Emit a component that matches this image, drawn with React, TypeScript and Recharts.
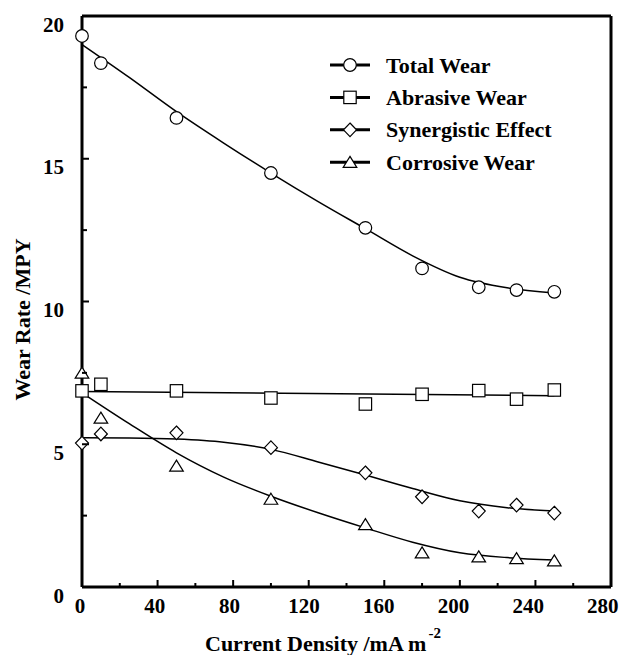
import { ComposedChart, Line, Scatter, XAxis, YAxis, Legend } from 'recharts'

// measured points
const currentDensity = [0, 10, 50, 100, 150, 180, 210, 230, 250]
const totalWear = [19.3, 18.35, 16.43, 14.5, 12.58, 11.16, 10.5, 10.4, 10.34]
const abrasiveWear = [6.87, 7.1, 6.87, 6.62, 6.41, 6.75, 6.88, 6.58, 6.9]
const synergisticEffect = [5.04, 5.36, 5.4, 4.88, 4.0, 3.16, 2.66, 2.87, 2.59]
const corrosiveWear = [7.5, 5.92, 4.24, 3.08, 2.19, 1.2, 1.06, 1.0, 0.92]

// fitted curves
const fitDensity = [0, 25, 50, 75, 100, 125, 150, 175, 200, 225, 250]
const totalFit = [19.0, 17.85, 16.65, 15.55, 14.5, 13.5, 12.55, 11.6, 10.85, 10.48, 10.3]
const synergisticFit = [5.23, 5.22, 5.18, 5.07, 4.82, 4.38, 3.92, 3.45, 3.02, 2.78, 2.66]
const corrosiveFit = [6.8, 5.72, 4.7, 3.85, 3.18, 2.6, 2.07, 1.57, 1.2, 1.03, 0.95]
const abrasiveFitDensity = [0, 250]
const abrasiveFit = [6.85, 6.7]

const xTicks = [0, 20, 40, 60, 80, 100, 120, 140, 160, 180, 200, 220, 240, 260, 280]
const yTicks = [0, 2.5, 5, 7.5, 10, 12.5, 15, 17.5, 20]

type MarkerKind = 'circle' | 'square' | 'diamond' | 'triangle'

const series: { name: string; values: number[]; fitX: number[]; fit: number[]; marker: MarkerKind }[] = [
  { name: 'Total Wear', values: totalWear, fitX: fitDensity, fit: totalFit, marker: 'circle' },
  { name: 'Abrasive Wear', values: abrasiveWear, fitX: abrasiveFitDensity, fit: abrasiveFit, marker: 'square' },
  { name: 'Synergistic Effect', values: synergisticEffect, fitX: fitDensity, fit: synergisticFit, marker: 'diamond' },
  { name: 'Corrosive Wear', values: corrosiveWear, fitX: fitDensity, fit: corrosiveFit, marker: 'triangle' },
]

const font = { fontFamily: '"Liberation Serif", "Times New Roman", serif', fontWeight: 700, fontSize: 21, fill: '#000' }
const bigFont = { ...font, fontSize: 22 }

function Marker({ kind, cx, cy }: { kind: MarkerKind; cx: number; cy: number }) {
  const common = { fill: '#fff', stroke: '#000', strokeWidth: 1.2 }
  if (kind === 'circle') return <circle cx={cx} cy={cy} r={6.3} {...common} />
  if (kind === 'square') return <rect x={cx - 6.2} y={cy - 6.2} width={12.4} height={12.4} {...common} />
  if (kind === 'diamond')
    return <path d={`M${cx},${cy - 6.8}L${cx + 6.5},${cy}L${cx},${cy + 6.8}L${cx - 6.5},${cy}Z`} {...common} />
  return <path d={`M${cx},${cy - 5.8}L${cx + 6.8},${cy + 5.2}L${cx - 6.8},${cy + 5.2}Z`} {...common} />
}

const BottomTick = (props: any) => {
  const { x, y, payload } = props
  const v = payload.value
  const major = v % 40 === 0
  return (
    <g>
      <line x1={x} x2={x} y1={y} y2={y - (major ? 7 : 4)} stroke="#000" strokeWidth={2} />
      {major && (
        <text x={x - 2 - v * 0.022} y={y + 26} textAnchor="middle" style={font}>
          {v}
        </text>
      )}
    </g>
  )
}

const TopTick = (props: any) => {
  const { x, y, payload } = props
  const major = payload.value % 40 === 0
  return <line x1={x} x2={x} y1={y} y2={y + (major ? 6 : 4)} stroke="#000" strokeWidth={2} />
}

const LeftTick = (props: any) => {
  const { x, y, payload } = props
  const v = payload.value
  const major = v % 5 === 0
  return (
    <g>
      <line x1={x} x2={x + (major ? 7 : 5)} y1={y} y2={y} stroke="#000" strokeWidth={2} />
      {major && (
        <text x={x - 18} y={y + 15.5} textAnchor="end" style={font}>
          {v}
        </text>
      )}
    </g>
  )
}

const RightTick = (props: any) => {
  const { x, y, payload } = props
  const major = payload.value % 5 === 0
  return <line x1={x} x2={x - (major ? 6 : 4)} y1={y} y2={y} stroke="#000" strokeWidth={2} />
}

const XTitle = () => (
  <text x={205} y={651} style={bigFont}>
    Current Density /mA m
    <tspan dx={2} dy={-13} style={{ fontSize: 15 }}>
      -2
    </tspan>
  </text>
)

const YTitle = () => (
  <text x={30} y={319.5} transform="rotate(-90, 30, 319.5)" textAnchor="middle" style={bigFont}>
    Wear Rate /MPY
  </text>
)

const LegendBox = () => (
  <svg width={280} height={140}>
    {series.map((s, i) => {
      const cy = 16 + i * 32.4
      return (
        <g key={s.name}>
          <line x1={5} x2={45} y1={cy} y2={cy} stroke="#000" strokeWidth={3} />
          <Marker kind={s.marker} cx={25} cy={cy} />
          <text x={61} y={cy + 7.5} style={bigFont}>
            {s.name}
          </text>
        </g>
      )
    })}
  </svg>
)

const axisLine = { stroke: '#000', strokeWidth: 3 }

export default function App() {
  return (
    <div style={{ position: 'absolute', left: 0, top: 0, background: '#fff' }}>
      <ComposedChart width={621} height={655} margin={{ top: 15, right: 9, bottom: 0, left: 0 }}>
        <XAxis
          dataKey="x"
          type="number"
          domain={[0, 280]}
          ticks={xTicks}
          interval={0}
          height={68}
          tickSize={0}
          tickMargin={0}
          tickLine={false}
          axisLine={axisLine}
          tick={<BottomTick />}
          label={{ content: <XTitle /> }}
        />
        <XAxis
          xAxisId="top"
          orientation="top"
          dataKey="x"
          type="number"
          domain={[0, 280]}
          ticks={xTicks}
          interval={0}
          height={1}
          tickSize={0}
          tickMargin={0}
          tickLine={false}
          axisLine={axisLine}
          tick={<TopTick />}
        />
        <YAxis
          dataKey="y"
          type="number"
          domain={[0, 20]}
          ticks={yTicks}
          interval={0}
          width={82}
          tickSize={0}
          tickMargin={0}
          tickLine={false}
          axisLine={axisLine}
          tick={<LeftTick />}
          label={{ content: <YTitle /> }}
        />
        <YAxis
          yAxisId="right"
          orientation="right"
          dataKey="y"
          type="number"
          domain={[0, 20]}
          ticks={yTicks}
          interval={0}
          width={1}
          tickSize={0}
          tickMargin={0}
          tickLine={false}
          axisLine={axisLine}
          tick={<RightTick />}
        />
        <Legend
          layout="horizontal"
          verticalAlign="middle"
          align="center"
          content={<LegendBox />}
          wrapperStyle={{ left: 325, top: 49, width: 280, height: 140 }}
        />
        {series.map((s) => (
          <Line
            key={s.name + '-fit'}
            data={s.fitX.map((x, i) => ({ x, y: s.fit[i] }))}
            dataKey="y"
            type="monotone"
            stroke="#000"
            strokeWidth={1.5}
            dot={false}
            activeDot={false}
            legendType="none"
            isAnimationActive={false}
          />
        ))}
        {series.map((s) => (
          <Scatter
            key={s.name}
            name={s.name}
            data={currentDensity.map((x, i) => ({ x, y: s.values[i] }))}
            dataKey="y"
            shape={(p: any) => <Marker kind={s.marker} cx={p.cx} cy={p.cy} />}
            isAnimationActive={false}
          />
        ))}
      </ComposedChart>
    </div>
  )
}
